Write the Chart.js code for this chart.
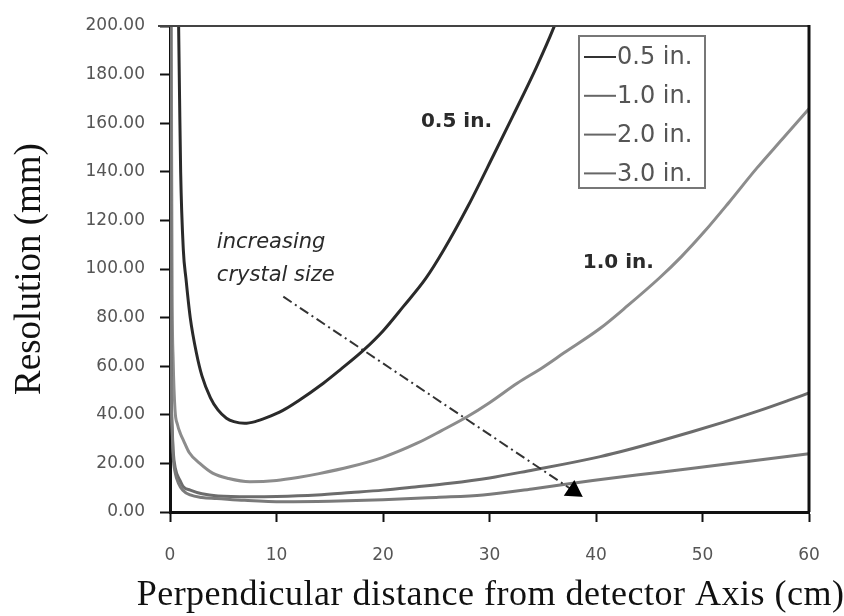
<!DOCTYPE html>
<html><head><meta charset="utf-8">
<script src="https://cdn.jsdelivr.net/npm/chart.js@4/dist/chart.umd.min.js"></script>
<style>html,body{margin:0;padding:0;background:#fff}#wrap{width:844px;height:616px;position:relative}</style>
</head><body><div id="wrap"><canvas id="c" width="844" height="616"></canvas></div>
<script>
// ---- data ----
const seriesLabels = ['0.5 in.', '1.0 in.', '2.0 in.', '3.0 in.'];

const x05 = [0.75, 0.9, 1.0, 1.25, 1.5, 1.9, 2.5, 3, 3.8, 4.5, 5.3, 6, 7, 8, 9, 10.6, 12, 14.4, 16, 18.2, 20, 21.9, 24, 25.7, 28, 30.4, 32.2, 34.4, 36, 36.6];
const y05 = [220, 170, 140, 108, 96, 80, 65, 56, 47, 42, 38.6, 37.2, 36.5, 37.2, 38.7, 41.8, 45.6, 53, 58.6, 66.7, 74.5, 84.5, 96, 107.8, 126, 147, 163, 183, 199, 206];

const x10 = [0.12, 0.15, 0.2, 0.3, 0.47, 0.7, 1.0, 1.25, 1.8, 2.8, 4, 5.5, 7.5, 10, 12, 14, 16.9, 20, 23.2, 25.5, 27.9, 30, 32.6, 35, 37, 40.4, 43, 46, 48, 50.2, 52.5, 55.1, 57.5, 60];
const y10 = [220, 150, 90, 62, 42, 36, 32, 29.6, 24.5, 20, 16, 13.8, 12.5, 13, 14.2, 15.8, 18.6, 22.5, 28.3, 33.5, 39.2, 45, 53, 59.5, 65.5, 75.6, 85, 96.5, 105, 115.5, 127.5, 141.5, 153.5, 166];

const x20 = [0.05, 0.1, 0.2, 0.3, 0.5, 0.94, 1.25, 1.9, 3, 4.5, 7.5, 10, 13.8, 17, 20, 23, 26.3, 30, 34.1, 37, 40.4, 43, 46, 49, 52, 55.4, 58, 60];
const y20 = [220, 64, 35, 25, 18, 13, 10.4, 9, 7.5, 6.6, 6.3, 6.4, 7, 8, 9, 10.3, 11.8, 14, 17.3, 19.7, 22.8, 25.6, 29.2, 33, 37, 41.8, 45.8, 49];

const x30 = [0.0, 0.06, 0.15, 0.3, 0.5, 0.8, 1.2, 1.9, 3, 4.4, 7, 10.6, 15, 20, 25, 29.4, 34, 39.7, 44, 49.1, 54, 60];
const y30 = [220, 64, 40, 22.8, 16, 11.8, 9, 7, 6, 5.6, 4.8, 4.2, 4.4, 5, 6, 7, 9.5, 13, 15.3, 18, 20.7, 24];

const xTickValues = [0, 10, 20, 30, 40, 50, 60];
const yTickValues = [0, 20, 40, 60, 80, 100, 120, 140, 160, 180, 200];

// annotation arrow (data coordinates): start, arrow-head
const arrowX = [10.64, 37.9];
const arrowY = [88.6, 8.7];

// in-plot text labels (data coordinates)
const noteTexts = ['0.5 in.', '1.0 in.', 'increasing', 'crystal size'];
const noteX = [26.9, 42.1, 4.4, 4.4];
const noteY = [160.5, 102.5, 111, 97.5];

const xTitle = 'Perpendicular distance from detector Axis (cm)';
const yTitle = 'Resolution (mm)';

// ---- build ----
const pts = (xs, ys) => xs.map((v, i) => ({x: v, y: ys[i]}));
const seriesColors = ['#2a2a2a', '#8c8c8c', '#6c6c6c', '#7a7a7a'];
const legendColors = ['#333333', '#666666', '#666666', '#666666'];
const seriesWidths = [3, 3, 3, 3];
const seriesData = [pts(x05, y05), pts(x10, y10), pts(x20, y20), pts(x30, y30)];

const datasets = seriesLabels.map((lab, i) => ({
  label: lab,
  data: seriesData[i],
  showLine: true,
  borderColor: seriesColors[i],
  backgroundColor: seriesColors[i],
  borderWidth: seriesWidths[i],
  pointRadius: 0,
  cubicInterpolationMode: 'monotone',
  order: 4 - i
}));
datasets.push({
  label: 'arrow',
  data: pts(arrowX, arrowY),
  showLine: true,
  borderColor: '#333',
  borderWidth: 2,
  borderDash: [10, 4, 2, 4],
  pointRadius: [0, 9],
  pointStyle: 'triangle',
  rotation: 123.7,
  pointBackgroundColor: '#000',
  pointBorderColor: '#000',
  order: 0
});

const noteFonts = ['bold 20px "DejaVu Sans"', 'bold 20px "DejaVu Sans"', 'italic 21px "DejaVu Sans"', 'italic 21px "DejaVu Sans"'];
const noteAlign = ['center', 'center', 'left', 'left'];

const decor = {
  id: 'decor',
  afterDatasetsDraw(chart) {
    const {ctx, chartArea: a, scales: {x, y}} = chart;
    ctx.save();
    // plot frame (top, right)
    ctx.strokeStyle = '#444'; ctx.lineWidth = 2;
    ctx.beginPath(); ctx.moveTo(a.left - 12, a.top); ctx.lineTo(a.right, a.top); ctx.stroke();
    ctx.strokeStyle = '#111'; ctx.lineWidth = 3;
    ctx.beginPath(); ctx.moveTo(a.right, a.top - 1); ctx.lineTo(a.right, a.bottom); ctx.stroke();

    // text notes
    ctx.fillStyle = '#2a2a2a';
    ctx.textBaseline = 'middle';
    noteTexts.forEach((t, i) => {
      ctx.font = noteFonts[i];
      ctx.textAlign = noteAlign[i];
      ctx.fillText(t, x.getPixelForValue(noteX[i]), y.getPixelForValue(noteY[i]));
    });

    // legend box
    const bx = 579, by = 36, bw = 126, bh = 152;
    ctx.fillStyle = '#fff';
    ctx.fillRect(bx, by, bw, bh);
    ctx.strokeStyle = '#777'; ctx.lineWidth = 2;
    ctx.strokeRect(bx, by, bw, bh);
    ctx.font = '24px "DejaVu Sans"';
    ctx.textAlign = 'left';
    seriesLabels.forEach((lab, i) => {
      const ry = by + 21 + i * 38.8;
      ctx.strokeStyle = legendColors[i]; ctx.lineWidth = 2;
      ctx.beginPath(); ctx.moveTo(bx + 5, ry); ctx.lineTo(bx + 37, ry); ctx.stroke();
      ctx.fillStyle = '#555';
      ctx.fillText(lab, bx + 38, ry + 1);
    });

    // x-axis title (drawn here so it may be wider than the plot area)
    ctx.font = '36px "Liberation Serif"';
    if ('letterSpacing' in ctx) ctx.letterSpacing = '0.5px';
    ctx.fillStyle = '#111';
    ctx.textAlign = 'center';
    ctx.textBaseline = 'middle';
    ctx.fillText(xTitle, (a.left + a.right) / 2 + 1, 596);
    ctx.restore();
  }
};

new Chart(document.getElementById('c'), {
  type: 'scatter',
  data: {datasets},
  options: {
    responsive: false,
    animation: false,
    devicePixelRatio: 1,
    layout: {padding: {top: 26, right: 35, left: 0, bottom: 0}},
    plugins: {legend: {display: false}, tooltip: {enabled: false}},
    scales: {
      x: {
        type: 'linear', min: 0, max: 60,
        afterFit: s => { s.height = 104; },
        afterBuildTicks: s => { s.ticks = xTickValues.map(v => ({value: v})); },
        ticks: {color: '#555', font: {family: 'DejaVu Sans', size: 17}, padding: 23, maxRotation: 0},
        grid: {display: true, drawOnChartArea: false, drawTicks: true, tickLength: 10, tickColor: '#111', tickWidth: 2},
        border: {display: true, color: '#111', width: 3},
        title: {display: false, text: xTitle}
      },
      y: {
        type: 'linear', min: 0, max: 200,
        afterFit: s => { s.width = 170; },
        afterBuildTicks: s => { s.ticks = yTickValues.map(v => ({value: v})); },
        ticks: {color: '#555', font: {family: 'DejaVu Sans', size: 17}, padding: 15, callback: v => Number(v).toFixed(2)},
        grid: {display: true, drawOnChartArea: false, drawTicks: true, tickLength: 10, tickColor: '#111', tickWidth: 2},
        border: {display: true, color: '#111', width: 3},
        title: {display: true, text: yTitle, color: '#111', font: {family: 'Liberation Serif', size: 37, lineHeight: 1.0}, padding: {top: 12, bottom: 0}}
      }
    }
  },
  plugins: [decor]
});
</script>
</body></html>
